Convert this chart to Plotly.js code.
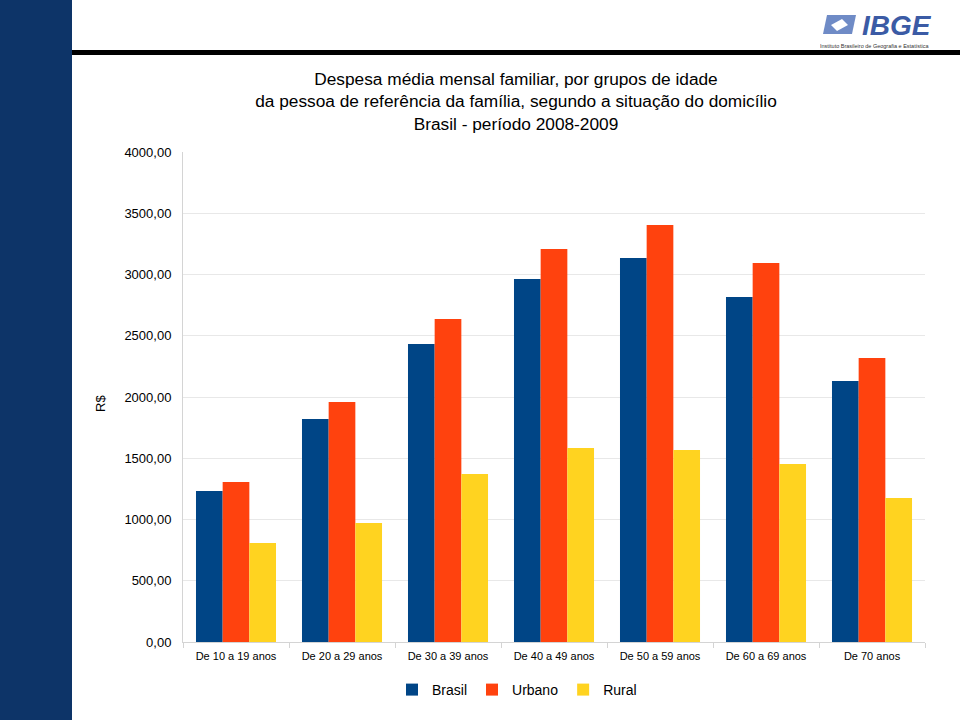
<!DOCTYPE html>
<html>
<head>
<meta charset="utf-8">
<script src="https://cdn.plot.ly/plotly-3.0.1.min.js"></script>
<style>html,body{margin:0;padding:0;background:#fff;}#chart{width:960px;height:720px;}</style>
</head>
<body>
<div id="chart"></div>
<script>
const categories = ["De 10 a 19 anos","De 20 a 29 anos","De 30 a 39 anos","De 40 a 49 anos","De 50 a 59 anos","De 60 a 69 anos","De 70 anos"];
const brasil = [1233, 1820, 2433, 2963, 3135, 2816, 2131];
const urbano = [1306, 1959, 2637, 3208, 3404, 3094, 2318];
const rural  = [808, 971, 1371, 1584, 1567, 1453, 1176];
const seriesNames = ["Brasil","Urbano","Rural"];
const colors = ["#004586","#ff420e","#ffd320"];

const traces = [brasil, urbano, rural].map((vals, i) => ({
  type: "bar", name: seriesNames[i], x: categories, y: vals,
  marker: {color: colors[i], line: {width: 0}},
  hoverinfo: "x+y"
}));

const L = 183, T = 152, W = 742, H = 490;
const px = x => (x - L) / W;
const py = y => (T + H - y) / H;

const layout = {
  width: 960, height: 720,
  paper_bgcolor: "#ffffff", plot_bgcolor: "#ffffff",
  font: {family: "Liberation Sans, Arial, sans-serif", color: "#000"},
  separators: ",.",
  margin: {l: L, r: 960 - L - W, t: T, b: 720 - T - H},
  barmode: "group", bargap: 0.245, bargroupgap: 0,
  title: {
    text: "Despesa média mensal familiar, por grupos de idade<br>da pessoa de referência da família, segundo a situação do domicílio<br>Brasil - período 2008-2009",
    font: {size: 17.3, family: "Liberation Sans, Arial, sans-serif", color: "#000"},
    x: 516 / 960, xanchor: "center", xref: "container",
    y: 1 - 85 / 720, yanchor: "middle", yref: "container"
  },
  xaxis: {
    type: "category",
    tickfont: {size: 11},
    showline: true, linecolor: "#d4d4d4", linewidth: 1,
    ticks: "outside", tickson: "boundaries", ticklen: 5, tickcolor: "#d4d4d4",
    ticklabelstandoff: 4,
    showgrid: false, fixedrange: true
  },
  yaxis: {
    range: [0, 4000], dtick: 500, tickformat: ".2f",
    tickfont: {size: 13},
    showgrid: true, gridcolor: "#e8e8e8", gridwidth: 1,
    showline: true, linecolor: "#d4d4d4", linewidth: 1,
    ticks: "", ticklabelstandoff: 8,
    zeroline: false, fixedrange: true
  },
  legend: {
    orientation: "h", x: 517 / 960, xref: "container", xanchor: "center",
    y: 1 - 690 / 720, yref: "container", yanchor: "middle",
    font: {size: 14}, itemwidth: 30, traceorder: "normal"
  },
  annotations: [
    {text: "R$", xref: "paper", yref: "paper", x: px(100), y: py(404), xanchor: "center", yanchor: "middle",
     textangle: -90, showarrow: false, font: {size: 13}},
    {text: "<b><i>IBGE</i></b>", xref: "paper", yref: "paper", showarrow: false,
     x: px(934), xanchor: "right", y: py(25), yanchor: "middle", height: 26,
     font: {size: 28, color: "#3b5ba5", family: "Liberation Sans, Arial, sans-serif"}},
    {text: "Instituto Brasileiro de Geografia e Estatística", xref: "paper", yref: "paper", showarrow: false,
     x: px(931), xanchor: "right", y: py(45), yanchor: "middle", height: 7,
     font: {size: 5.5, color: "#333"}}
  ],
  shapes: [
    {type: "rect", xref: "paper", yref: "paper", x0: px(0), x1: px(72), y0: py(0), y1: py(720),
     fillcolor: "#0d3468", line: {width: 0}, layer: "below"},
    {type: "rect", xref: "paper", yref: "paper", x0: px(72), x1: px(960), y0: py(50), y1: py(55),
     fillcolor: "#000000", line: {width: 0}, layer: "below"},
    {type: "path", xref: "paper", yref: "paper", fillcolor: "#6f8bc6", line: {width: 0},
     path: `M ${px(827)} ${py(15)} L ${px(856)} ${py(15)} L ${px(852)} ${py(34)} L ${px(823)} ${py(34)} Z`},
    {type: "path", xref: "paper", yref: "paper", fillcolor: "#ffffff", line: {width: 0},
     path: `M ${px(831)} ${py(25)} L ${px(842)} ${py(19)} L ${px(848)} ${py(25)} L ${px(837)} ${py(31)} Z`}
  ]
};

Plotly.newPlot("chart", traces, layout, {displayModeBar: false, staticPlot: true});
</script>
</body>
</html>
